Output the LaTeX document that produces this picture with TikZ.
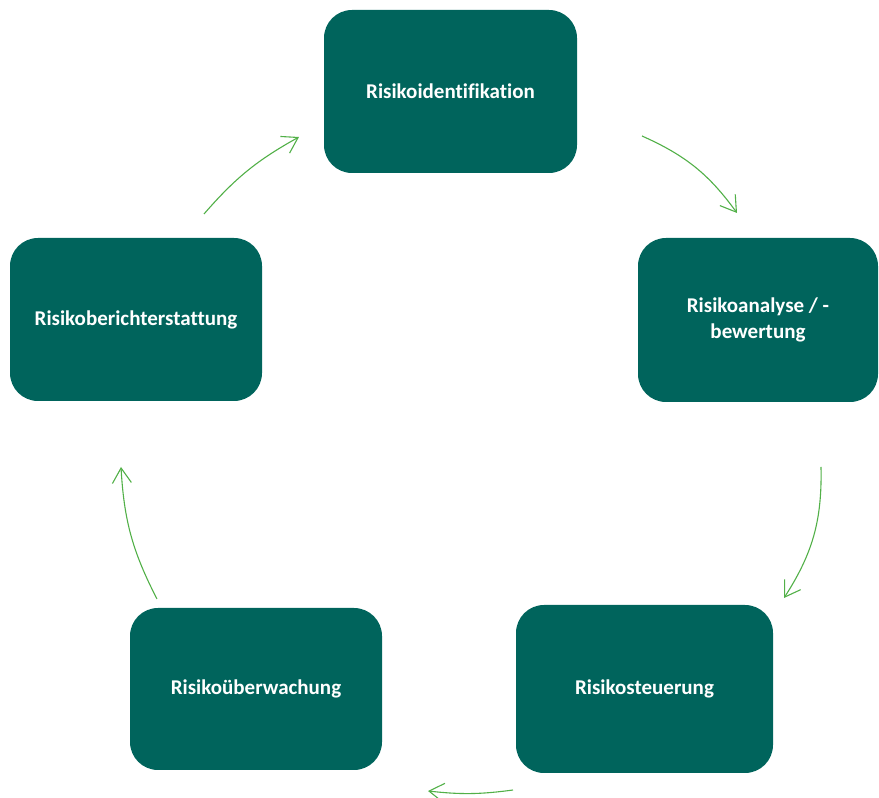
\documentclass[tikz,border=0pt]{standalone}
\usepackage{fontspec}
\setmainfont{Carlito}[Ligatures={NoCommon}]
\usetikzlibrary{arrows.meta}

\definecolor{kasten}{RGB}{0,100,92}
\definecolor{pfeil}{RGB}{82,176,72}

\tikzset{
  schritt/.style={rectangle, rounded corners=28pt, fill=kasten, text=white,
    font=\bfseries\fontsize{21}{26}\selectfont, align=center, inner sep=0pt},
  kreis/.style={draw=pfeil, line width=1.1pt, -{Straight Barb[length=15pt,width=19pt]}},
}

\begin{document}
\begin{tikzpicture}[x=1pt,y=1pt]

\useasboundingbox (0,0) rectangle (879,798);

% Risikoidentifikation
\node[schritt, minimum width=253pt, minimum height=163pt] (ident) at (450.5,706.5) {Risikoidentifikation};

% Risikoanalyse
\node[schritt, minimum width=240pt, minimum height=164pt] (analyse) at (758,478) {Risikoanalyse / -\\bewertung};

% Risikosteuerung
\node[schritt, minimum width=257pt, minimum height=168pt] (steuer) at (644.5,109) {Risikosteuerung};

% Risikouberwachung
\node[schritt, minimum width=252pt, minimum height=162pt] (ueberw) at (256,109) {Risikoüberwachung};

% Risikoberichterstattung
\node[schritt, minimum width=252pt, minimum height=163pt] (bericht) at (136,478.5) {Risikoberichterstattung};

% Pfeile im Kreis
\coordinate (p1a) at (642,662);
\coordinate (p1b) at (737,585);
\draw[kreis] (p1a) to[bend left=15] (p1b);

\coordinate (p2a) at (821,331);
\coordinate (p2b) at (784,200);
\draw[kreis] (p2a) to[bend left=17] (p2b);

\coordinate (p3a) at (513,8);
\coordinate (p3b) at (428,7);
\draw[kreis] (p3a) to[bend left=7] (p3b);

\coordinate (p4a) at (157,199);
\coordinate (p4b) at (121,331);
\draw[kreis] (p4a) to[bend left=12] (p4b);

\coordinate (p5a) at (204,584);
\coordinate (p5b) at (299,661);
\draw[kreis] (p5a) to[bend left=10] (p5b);

\end{tikzpicture}
\end{document}
